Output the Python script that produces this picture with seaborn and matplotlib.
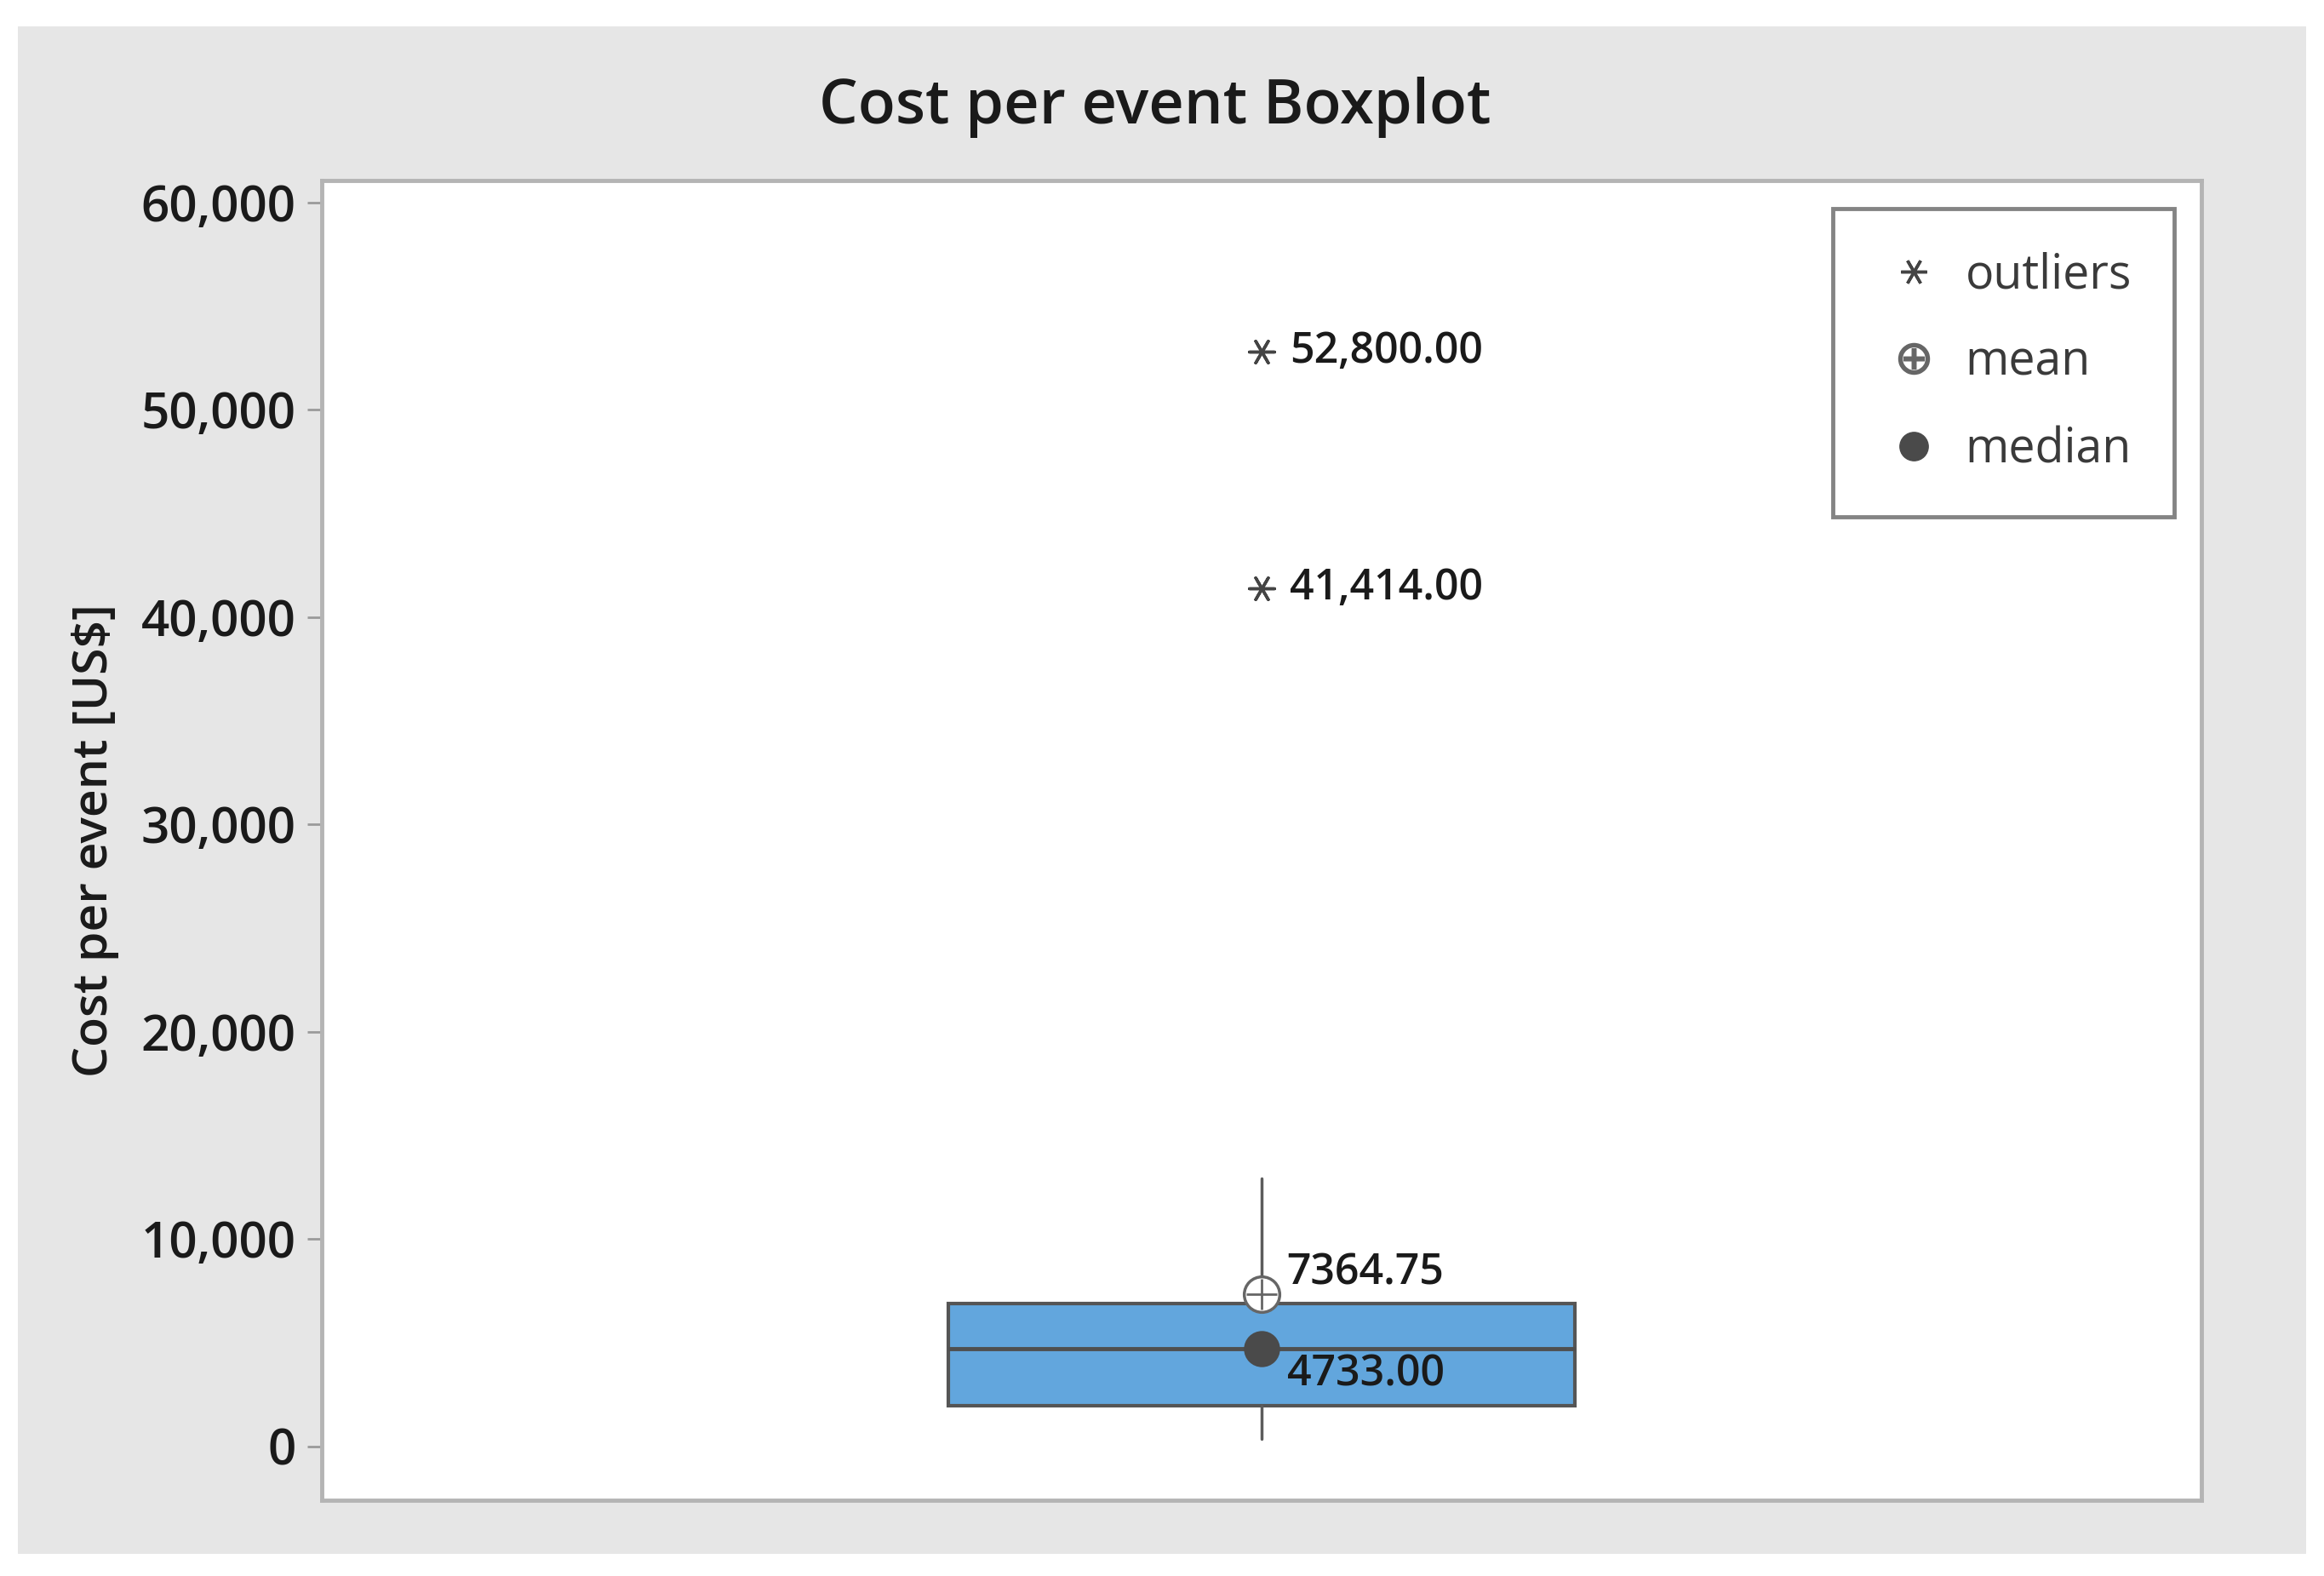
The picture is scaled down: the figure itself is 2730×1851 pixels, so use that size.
import matplotlib.pyplot as plt
import pandas as pd
import seaborn as sns
from matplotlib.lines import Line2D
from matplotlib.patches import Rectangle
from matplotlib.ticker import FuncFormatter

# --- values -------------------------------------------------------------
TITLE = "Cost per event Boxplot"
Y_LABEL = "Cost per event [US$]"
Y_TICKS = [0, 10000, 20000, 30000, 40000, 50000, 60000]

STAT_KEYS = ["whislo", "q1", "med", "q3", "whishi"]
STAT_VALUES = [370, 1950, 4733, 6900, 12950]
MEAN_VALUE = 7364.75
OUTLIERS = [52800, 41414]

LEGEND_LABELS = ["outliers", "mean", "median"]

BOX_BLUE = "#62a6dd"
PANEL_GRAY = "#e6e6e6"

FONT = ["Open Sans", "DejaVu Sans"]


def main() -> None:
    sns.set_theme(style="white")
    plt.rcParams["font.family"] = FONT

    fig = plt.figure(figsize=(27.3, 18.51), dpi=100)
    fig.patch.set_facecolor("white")
    fig.patches.append(
        Rectangle((0.0077, 0.014), 0.9846, 0.9693, transform=fig.transFigure,
                  facecolor=PANEL_GRAY, edgecolor="none", zorder=-10)
    )
    ax = fig.add_axes([0.1385, 0.0481, 0.8088, 0.8374])
    ax.set_facecolor("white")

    # --- box -----------------------------------------------------------------
    stats = dict(zip(STAT_KEYS, STAT_VALUES))
    stats["fliers"] = []
    ax.bxp(
        [stats],
        positions=[0],
        widths=1.0,
        patch_artist=True,
        showcaps=False,
        showfliers=False,
        manage_ticks=False,
        boxprops=dict(facecolor=BOX_BLUE, edgecolor="#555555", linewidth=3),
        medianprops=dict(color="#4f4f4f", linewidth=3.5),
        whiskerprops=dict(color="#5c5c5c", linewidth=2.5),
    )

    # --- markers -------------------------------------------------------------
    df_out = pd.DataFrame({"x": [0] * len(OUTLIERS), "y": OUTLIERS})
    sns.scatterplot(data=df_out, x="x", y="y", marker=(6, 2, 90), s=450,
                    color="#444444", linewidth=2.5, ax=ax, zorder=5)
    df_mean = pd.DataFrame({"x": [0], "y": [MEAN_VALUE]})
    sns.scatterplot(data=df_mean, x="x", y="y", marker="o", s=900,
                    facecolor="white", edgecolor="#666666", linewidth=2.5,
                    ax=ax, zorder=5)
    sns.scatterplot(data=df_mean, x="x", y="y", marker="+", s=650,
                    color="#666666", linewidth=2, ax=ax, zorder=6)
    df_med = pd.DataFrame({"x": [0], "y": [stats["med"]]})
    sns.scatterplot(data=df_med, x="x", y="y", marker="o", s=800,
                    color="#4a4a4a", edgecolor="#4a4a4a", ax=ax, zorder=5)

    # --- value labels --------------------------------------------------------
    lab_kw = dict(fontsize=36, color="#1a1a1a", fontweight="semibold",
                  va="center", ha="left", zorder=7)
    for v in OUTLIERS:
        ax.text(0.045, v, f"{v:,.2f}", **lab_kw)
    ax.text(0.04, MEAN_VALUE + 1000, f"{MEAN_VALUE:.2f}", **lab_kw)
    ax.text(0.04, stats["med"] - 1250, f"{stats['med']:.2f}", **lab_kw)

    # --- axes ----------------------------------------------------------------
    ax.set_xlim(-1.5, 1.5)
    ax.set_ylim(-2587, 61068)
    ax.set_xticks([])
    ax.set_xlabel("")
    ax.set_yticks(Y_TICKS)
    ax.yaxis.set_major_formatter(FuncFormatter(lambda v, p: f"{v:,.0f}"))
    ax.tick_params(axis="y", left=True, length=12, width=2, color="#9a9a9a",
                   labelsize=42, labelcolor="#1a1a1a", pad=10)
    for lab in ax.get_yticklabels():
        lab.set_fontweight("semibold")
    for sp in ax.spines.values():
        sp.set_color("#b4b4b4")
        sp.set_linewidth(3.5)

    ax.set_ylabel(Y_LABEL, fontsize=41, fontweight="semibold", color="#1a1a1a")
    ax.yaxis.set_label_coords(-0.108, 0.5)
    fig.text(0.497, 0.932, TITLE, fontsize=52, fontweight="semibold",
             color="#1a1a1a", ha="center", va="center")

    # --- legend --------------------------------------------------------------
    handles = [
        Line2D([], [], ls="none", marker=(6, 2, 90), markersize=22,
               color="#444444", markeredgewidth=2.5),
        Line2D([], [], ls="none", marker=r"$\oplus$", markersize=26,
               color="#666666"),
        Line2D([], [], ls="none", marker="o", markersize=24, color="#4a4a4a"),
    ]
    leg = ax.legend(handles, LEGEND_LABELS, loc="upper right",
                    bbox_to_anchor=(0.9855, 0.9785), fontsize=40,
                    frameon=True, fancybox=False, borderpad=0.9,
                    labelspacing=0.82, handlelength=1.6, handletextpad=0.3,
                    borderaxespad=0)
    leg.get_frame().set_edgecolor("#666666")
    leg.get_frame().set_linewidth(3.5)
    for t in leg.get_texts():
        t.set_color("#3a3a3a")

    fig.savefig("out.png", dpi=100)


if __name__ == "__main__":
    main()
